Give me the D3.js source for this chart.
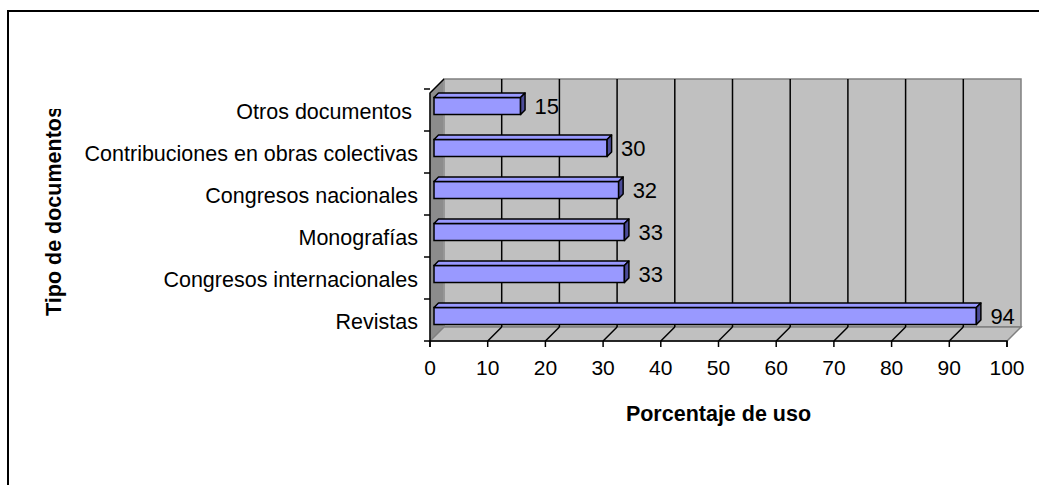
<!DOCTYPE html>
<html>
<head>
<meta charset="utf-8">
<script src="https://cdnjs.cloudflare.com/ajax/libs/d3/7.8.5/d3.min.js"></script>
<style>
  body { margin: 0; background: #fff; }
  text { font-family: "Liberation Sans", Arial, sans-serif; fill: #000; }
</style>
</head>
<body>
<script>
// Chart data (top to bottom as drawn)
var categories = ["Otros documentos ", "Contribuciones en obras colectivas", "Congresos nacionales",
  "Monografías", "Congresos internacionales", "Revistas"];
var values = [15, 30, 32, 33, 33, 94];
var xTicks = [0, 10, 20, 30, 40, 50, 60, 70, 80, 90, 100];
var xTitle = "Porcentaje de uso";
var yTitle = "Tipo de documentos";

// SVG area
var svgWidth = 1039;
var svgHeight = 485;

// front plane of the 3d box
var plot = { left: 430, right: 1007, top: 89, bottom: 341 };
var depth = 14;          // wall depth (px, goes up-right)
var wallTop = 79;        // top of back wall
var barZ0 = 4, barZ1 = 8.5;
var barThick = 17;

var svg = d3.select("body")
  .append("svg")
  .attr("width", svgWidth)
  .attr("height", svgHeight);

var x = d3.scaleLinear()
  .domain([0, 100])
  .range([plot.left, plot.right]);

var y = d3.scaleBand()
  .domain(categories)
  .range([plot.top, plot.bottom]);

// outer chart border (only top and left show)
svg.append("path")
  .attr("d", "M8,485 V11 H1039")
  .attr("fill", "none")
  .attr("stroke", "#000")
  .attr("stroke-width", 2);

// back wall
svg.append("rect")
  .attr("x", x(0) + depth)
  .attr("y", wallTop)
  .attr("width", x(100) - x(0))
  .attr("height", plot.bottom - depth - wallTop)
  .attr("fill", "#c0c0c0")
  .attr("stroke", "#808080")
  .attr("stroke-width", 1.5);

// left wall
svg.append("polygon")
  .attr("points", [[x(0), wallTop + depth], [x(0) + depth, wallTop], [x(0) + depth, plot.bottom - depth], [x(0), plot.bottom]].join(" "))
  .attr("fill", "#8c8c8c")
  .attr("stroke", "#a0a0a0")
  .attr("stroke-width", 1);

// floor
svg.append("polygon")
  .attr("points", [[x(0), plot.bottom], [x(0) + depth, plot.bottom - depth], [x(100) + depth, plot.bottom - depth], [x(100), plot.bottom]].join(" "))
  .attr("fill", "#c0c0c0")
  .attr("stroke", "#808080")
  .attr("stroke-width", 1.5);

// gridlines on back wall + floor diagonals
var grid = svg.append("g");
grid.selectAll(".vgrid")
  .data(xTicks.slice(1, -1))
  .enter()
  .append("line")
  .attr("x1", function(d) { return x(d) + depth; })
  .attr("x2", function(d) { return x(d) + depth; })
  .attr("y1", wallTop)
  .attr("y2", plot.bottom - depth)
  .attr("stroke", "#000")
  .attr("stroke-width", 1.5);

grid.selectAll(".diag")
  .data(xTicks.slice(1, -1))
  .enter()
  .append("line")
  .attr("x1", function(d) { return x(d); })
  .attr("x2", function(d) { return x(d) + depth; })
  .attr("y1", plot.bottom)
  .attr("y2", plot.bottom - depth)
  .attr("stroke", "#000")
  .attr("stroke-width", 1.5);

// bars
var bars = svg.append("g").selectAll("g")
  .data(values)
  .enter()
  .append("g");

function yTop(d, i) { return y(categories[i]) + y.bandwidth() / 2 - barThick / 2; }

bars.append("rect")
  .attr("x", x(0) + barZ0)
  .attr("y", function(d, i) { return yTop(d, i) - barZ0; })
  .attr("width", function(d) { return x(d) - x(0); })
  .attr("height", barThick)
  .attr("fill", "#9999ff")
  .attr("stroke", "#000")
  .attr("stroke-width", 1.5);

bars.append("polygon")
  .attr("points", function(d, i) {
    var t = yTop(d, i);
    return [[x(0) + barZ0, t - barZ0], [x(d) + barZ0, t - barZ0], [x(d) + barZ1, t - barZ1], [x(0) + barZ1, t - barZ1]].join(" ");
  })
  .attr("fill", "#9999ff")
  .attr("stroke", "#000")
  .attr("stroke-width", 1.5)
  .attr("stroke-linejoin", "round");

bars.append("polygon")
  .attr("points", function(d, i) {
    var t = yTop(d, i), b = t + barThick;
    return [[x(d) + barZ0, t - barZ0], [x(d) + barZ1, t - barZ1], [x(d) + barZ1, b - barZ1], [x(d) + barZ0, b - barZ0]].join(" ");
  })
  .attr("fill", "#4c4c99")
  .attr("stroke", "#000")
  .attr("stroke-width", 1.5)
  .attr("stroke-linejoin", "round");

// value labels
bars.append("text")
  .attr("x", function(d) { return x(d) + 18; })
  .attr("y", function(d, i) { return y(categories[i]) + y.bandwidth() / 2 - barZ0 + 8; })
  .attr("font-size", "22px")
  .text(function(d) { return d; });

// axes lines
svg.append("path")
  .attr("d", "M" + x(0) + "," + (plot.bottom + 6) + " V" + plot.bottom + " H" + x(100) + " V" + (plot.bottom + 6))
  .attr("fill", "none")
  .attr("stroke", "#000")
  .attr("stroke-width", 1.5);

svg.append("path")
  .attr("d", "M" + x(0) + "," + plot.bottom + " V" + (wallTop + depth) + " L" + (x(0) + depth) + "," + wallTop)
  .attr("fill", "none")
  .attr("stroke", "#000")
  .attr("stroke-width", 1.5);

// x ticks + labels
var xt = svg.append("g").selectAll("g")
  .data(xTicks)
  .enter()
  .append("g");

xt.append("line")
  .attr("x1", function(d) { return x(d); })
  .attr("x2", function(d) { return x(d); })
  .attr("y1", plot.bottom)
  .attr("y2", plot.bottom + 6)
  .attr("stroke", "#000")
  .attr("stroke-width", 1.5);

xt.append("text")
  .attr("x", function(d) { return x(d); })
  .attr("y", 375)
  .attr("text-anchor", "middle")
  .attr("font-size", "21px")
  .text(function(d) { return d; });

// y ticks (band boundaries) + category labels
var yEdges = categories.map(function(c) { return y(c); }).concat([plot.bottom]);
svg.append("g").selectAll("line")
  .data(yEdges)
  .enter()
  .append("line")
  .attr("x1", x(0) - 6)
  .attr("x2", x(0))
  .attr("y1", function(d) { return d; })
  .attr("y2", function(d) { return d; })
  .attr("stroke", "#000")
  .attr("stroke-width", 1.5);

svg.append("g").selectAll("text")
  .data(categories)
  .enter()
  .append("text")
  .attr("x", x(0) - 12)
  .attr("y", function(d) { return y(d) + y.bandwidth() / 2 + 9; })
  .attr("text-anchor", "end")
  .attr("font-size", "21.5px")
  .style("white-space", "pre")
  .text(function(d) { return d; });

// axis titles
svg.append("text")
  .attr("x", (x(0) + x(100)) / 2)
  .attr("y", 421)
  .attr("text-anchor", "middle")
  .attr("font-size", "21.5px")
  .attr("font-weight", "bold")
  .text(xTitle);

// y title is cut off at the top, as in the original
svg.append("clipPath")
  .attr("id", "yclip")
  .append("rect")
  .attr("x", 0)
  .attr("y", 109)
  .attr("width", 200)
  .attr("height", 380);

svg.append("g")
  .attr("clip-path", "url(#yclip)")
  .append("text")
  .attr("transform", "translate(61,211) rotate(-90)")
  .attr("text-anchor", "middle")
  .attr("font-size", "21.5px")
  .attr("font-weight", "bold")
  .text(yTitle);
</script>
</body>
</html>
